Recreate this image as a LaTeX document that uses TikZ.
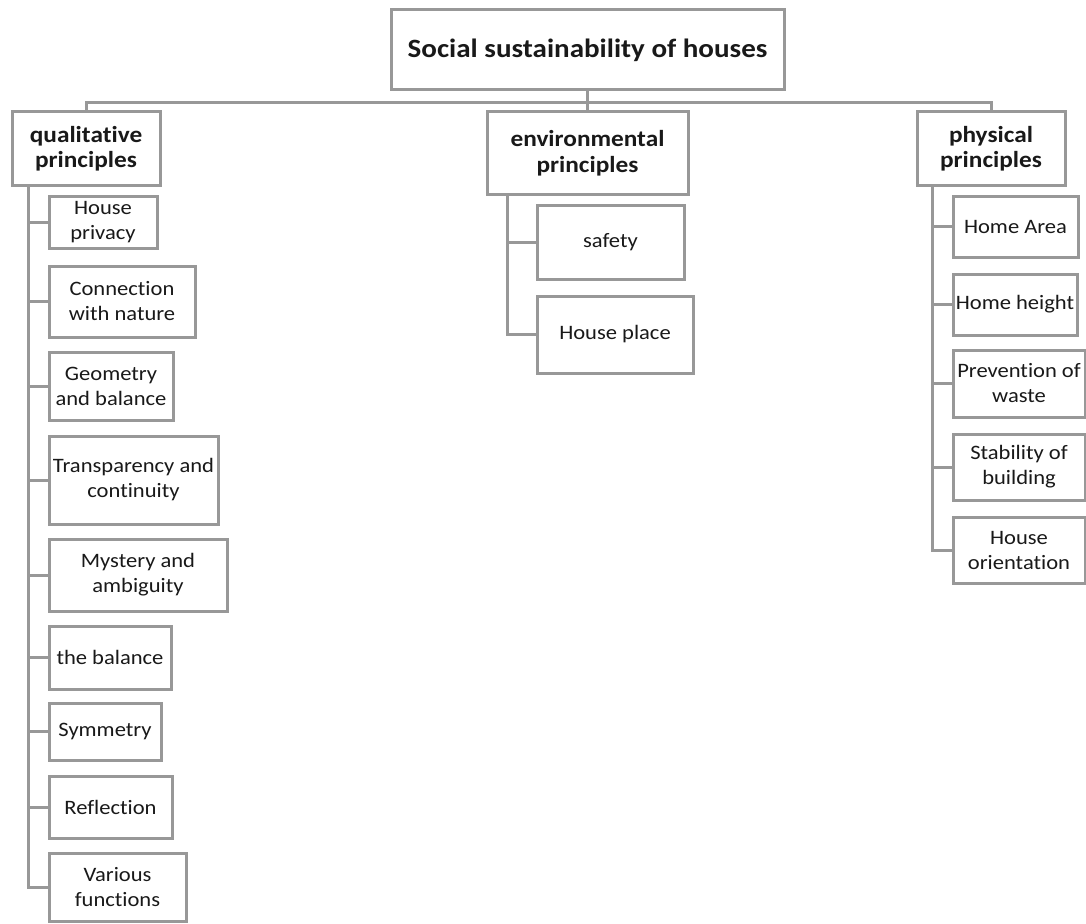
\documentclass[tikz,border=0pt]{standalone}
\usepackage{fontspec}
\setmainfont[Ligatures={NoCommon,NoRare,NoContextual},FakeStretch=1.1]{Carlito}
\definecolor{lineGray}{RGB}{152,152,152}
\begin{document}
\begin{tikzpicture}[x=1pt,y=-1pt,
  box/.style={draw=lineGray, line width=3pt, fill=white, inner sep=0pt, outer sep=0pt, align=center, font=\fontsize{20.5}{25}\selectfont, text=black!90},
  head/.style={box, font=\fontsize{23}{25.5}\selectfont\bfseries},
  conn/.style={draw=lineGray, line width=3pt}]
\useasboundingbox[fill=white] (0,0) rectangle (1086,923);
% top level
\node[head, minimum width=393pt, minimum height=80pt, font=\fontsize{26.4}{30}\selectfont\bfseries] (root) at (587.5,50) {Social sustainability of houses};
\node[head, minimum width=148pt, minimum height=73pt] (qual) at (86,148.5) {qualitative\\principles};
\node[head, minimum width=201pt, minimum height=82pt] (env) at (587.5,153) {environmental\\principles};
\node[head, minimum width=148pt, minimum height=73pt] (phys) at (991,148.5) {physical\\principles};
% qualitative children
\node[box, anchor=west, minimum width=108pt, minimum height=52pt] (q1) at (49,222) {House\\privacy};
\node[box, anchor=west, minimum width=146pt, minimum height=71pt] (q2) at (49,301.5) {Connection\\with nature};
\node[box, anchor=west, minimum width=124pt, minimum height=68pt] (q3) at (49,386) {Geometry\\and balance};
\node[box, anchor=west, minimum width=169pt, minimum height=88pt] (q4) at (49,480) {Transparency and\\continuity};
\node[box, anchor=west, minimum width=178pt, minimum height=72pt] (q5) at (49,575) {Mystery and\\ambiguity};
\node[box, anchor=west, minimum width=122pt, minimum height=63pt] (q6) at (49,657.5) {the balance};
\node[box, anchor=west, minimum width=112pt, minimum height=57pt] (q7) at (49,731.5) {Symmetry};
\node[box, anchor=west, minimum width=123pt, minimum height=62pt] (q8) at (49,807) {Reflection};
\node[box, anchor=west, minimum width=137pt, minimum height=68pt] (q9) at (49,887.5) {Various\\functions};
% environmental children
\node[box, anchor=west, minimum width=147pt, minimum height=74pt] (e1) at (537,242) {safety};
\node[box, anchor=west, minimum width=156pt, minimum height=77pt] (e2) at (537,334.5) {House place};
% physical children
\node[box, anchor=west, minimum width=125pt, minimum height=61pt] (p1) at (953,226.5) {Home Area};
\node[box, anchor=west, minimum width=124pt, minimum height=61pt] (p2) at (953,304.5) {Home height};
\node[box, anchor=west, minimum width=132pt, minimum height=67pt] (p3) at (953,383.5) {Prevention of\\waste};
\node[box, anchor=west, minimum width=132pt, minimum height=66pt] (p4) at (953,467) {Stability of\\building};
\node[box, anchor=west, minimum width=132pt, minimum height=66pt] (p5) at (953,550) {House\\orientation};
% bus
\coordinate (busY) at (0,103);
\draw[conn] (qual.north) -- (qual.north |- busY) -- (phys.north |- busY) -- (phys.north);
\draw[conn] (root.south) -- (env.north);
% spines
\coordinate (qs) at (28,0);
\coordinate (es) at (507.5,0);
\coordinate (ps) at (932,0);
\draw[conn] (qs |- qual.south) -- (qs |- q9.west) -- (q9.west);
\foreach \n in {q1,q2,q3,q4,q5,q6,q7,q8}{\draw[conn] (qs |- \n.west) -- (\n.west);}
\draw[conn] (es |- env.south) -- (es |- e2.west) -- (e2.west);
\draw[conn] (es |- e1.west) -- (e1.west);
\draw[conn] (ps |- phys.south) -- (ps |- p5.west) -- (p5.west);
\foreach \n in {p1,p2,p3,p4}{\draw[conn] (ps |- \n.west) -- (\n.west);}
\end{tikzpicture}
\end{document}
